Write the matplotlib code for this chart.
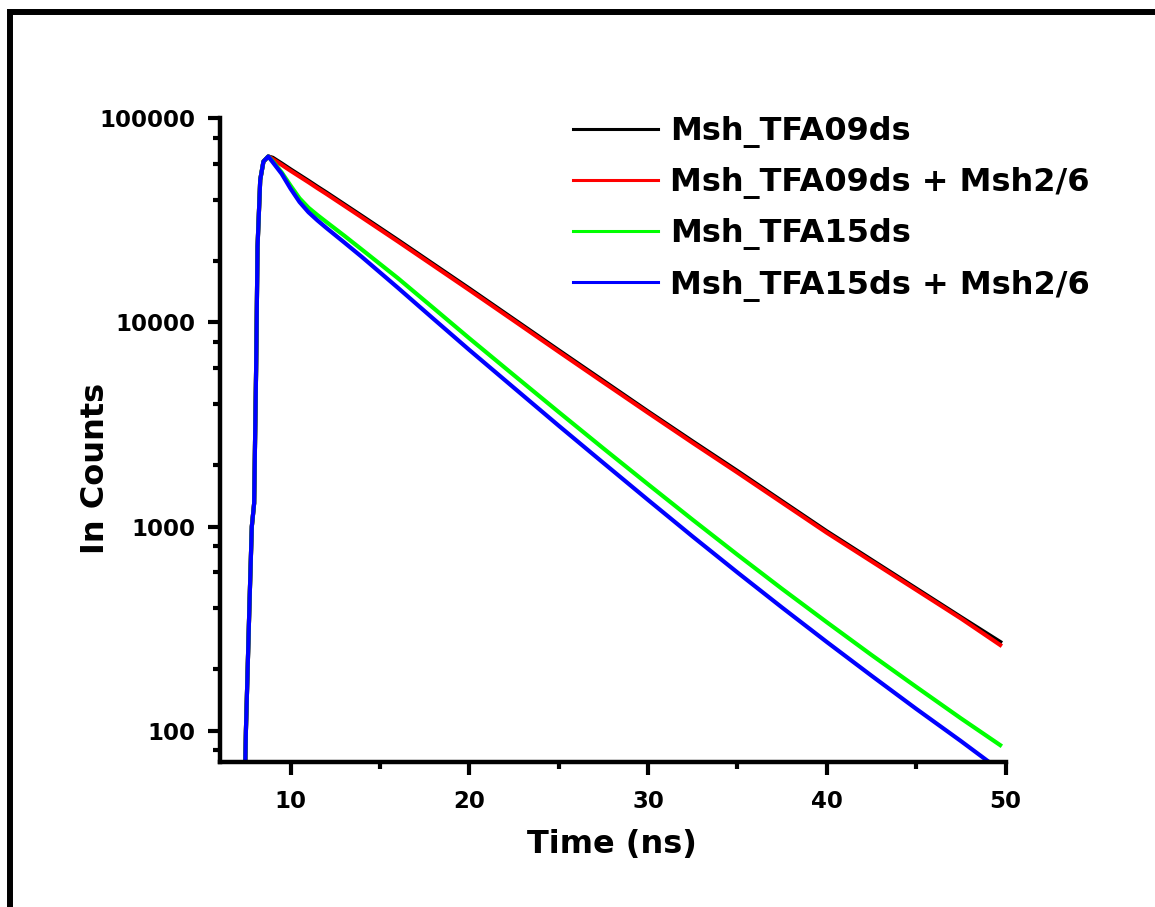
# -*- coding: utf-8 -*-
# 荧光寿命衰减曲线（对数坐标）

import numpy as np
import matplotlib.pyplot as plt
from matplotlib.patches import Rectangle
from matplotlib.ticker import LogLocator, MultipleLocator, NullFormatter

plt.rcParams['font.family'] = ['DejaVu Sans']
plt.rcParams['font.weight'] = 'bold'

# ========= 数据 =========
# 上升沿（四条曲线几乎重合）
t_rise = [7.45, 7.5, 7.6, 7.7, 7.83, 7.96, 8.07, 8.15, 8.3, 8.48, 8.75]
rise_counts = [60, 100, 205, 420, 1000, 1300, 5850, 23500, 49900, 61400, 65000]

# 衰减段
t_decay = [9, 9.5, 10, 10.5, 11, 11.5, 12, 13, 14, 16, 18, 20, 22.5, 25,
           27.5, 30, 32.5, 35, 37.5, 40, 42.5, 45, 47.5, 49.7]

tfa09 = [64050, 60050, 56170, 52660, 49370, 46180, 43300, 37890, 33150, 25320,
         19250, 14640, 10340, 7300, 5170, 3660, 2610, 1870, 1330, 947,
         686, 497, 360, 272]
tfa09_msh = [63100, 59160, 55340, 51880, 48640, 45500, 42660, 37330, 32660, 24950,
             18970, 14420, 10190, 7190, 5090, 3610, 2570, 1840, 1310, 933,
             676, 490, 355, 263]
tfa15 = [61660, 54330, 46770, 40550, 36480, 33570, 31050, 26610, 22700, 16480,
         11750, 8360, 5510, 3640, 2415, 1611, 1079, 728, 495, 340,
         235, 164, 115, 85]
tfa15_msh = [60950, 53460, 45190, 38900, 34670, 31620, 29040, 24660, 20890, 14790,
             10400, 7330, 4780, 3120, 2050, 1350, 893, 596, 401, 272,
             186, 128, 89, 64]

labels = ["Msh_TFA09ds", "Msh_TFA09ds + Msh2/6", "Msh_TFA15ds", "Msh_TFA15ds + Msh2/6"]
colors = ["#000000", "#ff0000", "#00ff00", "#0000ff"]

# ========= 画图 =========
fig = plt.figure(figsize=(11.55, 9.07), dpi=100)
ax = fig.add_axes([220 / 1155, 1 - 762.3 / 907, 785.5 / 1155, 644 / 907])

t_all = np.array(t_rise + t_decay)
for series, lab, col in zip([tfa09, tfa09_msh, tfa15, tfa15_msh], labels, colors):
    y = np.array(rise_counts + series)
    ax.plot(t_all, y, color=col, lw=3, label=lab)

ax.set_yscale("log")
ax.set_xlim(6.05, 50)
ax.set_ylim(70, 100000)

ax.xaxis.set_major_locator(MultipleLocator(10))
ax.xaxis.set_minor_locator(MultipleLocator(5))
ax.yaxis.set_major_locator(LogLocator(base=10, numticks=10))
ax.yaxis.set_minor_locator(LogLocator(base=10, subs=(2, 4, 6, 8), numticks=10))
ax.yaxis.set_minor_formatter(NullFormatter())
ax.yaxis.set_major_formatter(plt.FuncFormatter(lambda v, p: f"{v:.0f}"))

for side in ["top", "right"]:
    ax.spines[side].set_visible(False)
for side in ["left", "bottom"]:
    ax.spines[side].set_linewidth(3.2)

ax.tick_params(axis="both", which="major", direction="out", length=9, width=3,
               labelsize=16.5, pad=9)
ax.tick_params(axis="both", which="minor", direction="out", length=5, width=3)
ax.tick_params(axis="x", which="major", pad=11)

# 坐标轴标题
fig.text(612 / 1155, 1 - 845 / 907, "Time (ns)", ha="center", va="center",
         fontsize=23, fontweight="bold")
fig.text(95 / 1155, 1 - 468 / 907, "In Counts", ha="center", va="center",
         rotation=90, fontsize=23, fontweight="bold")

# 图例
leg = ax.legend(loc="upper left", bbox_to_anchor=(573 / 1155, 1 - 116 / 907),
                bbox_transform=fig.transFigure, frameon=False, fontsize=23,
                handlelength=2.66, handletextpad=0.38, labelspacing=0.6,
                borderpad=0, borderaxespad=0)
for line in leg.get_lines():
    line.set_linewidth(2.2)

# 外框（只露出上边和左边）
fig.add_artist(Rectangle((10 / 1155, -0.2), 1.5, 1.2 - 11.5 / 907,
                         transform=fig.transFigure, fill=False,
                         edgecolor="black", lw=4.3))

plt.savefig("out.png", dpi=100)
plt.close()
